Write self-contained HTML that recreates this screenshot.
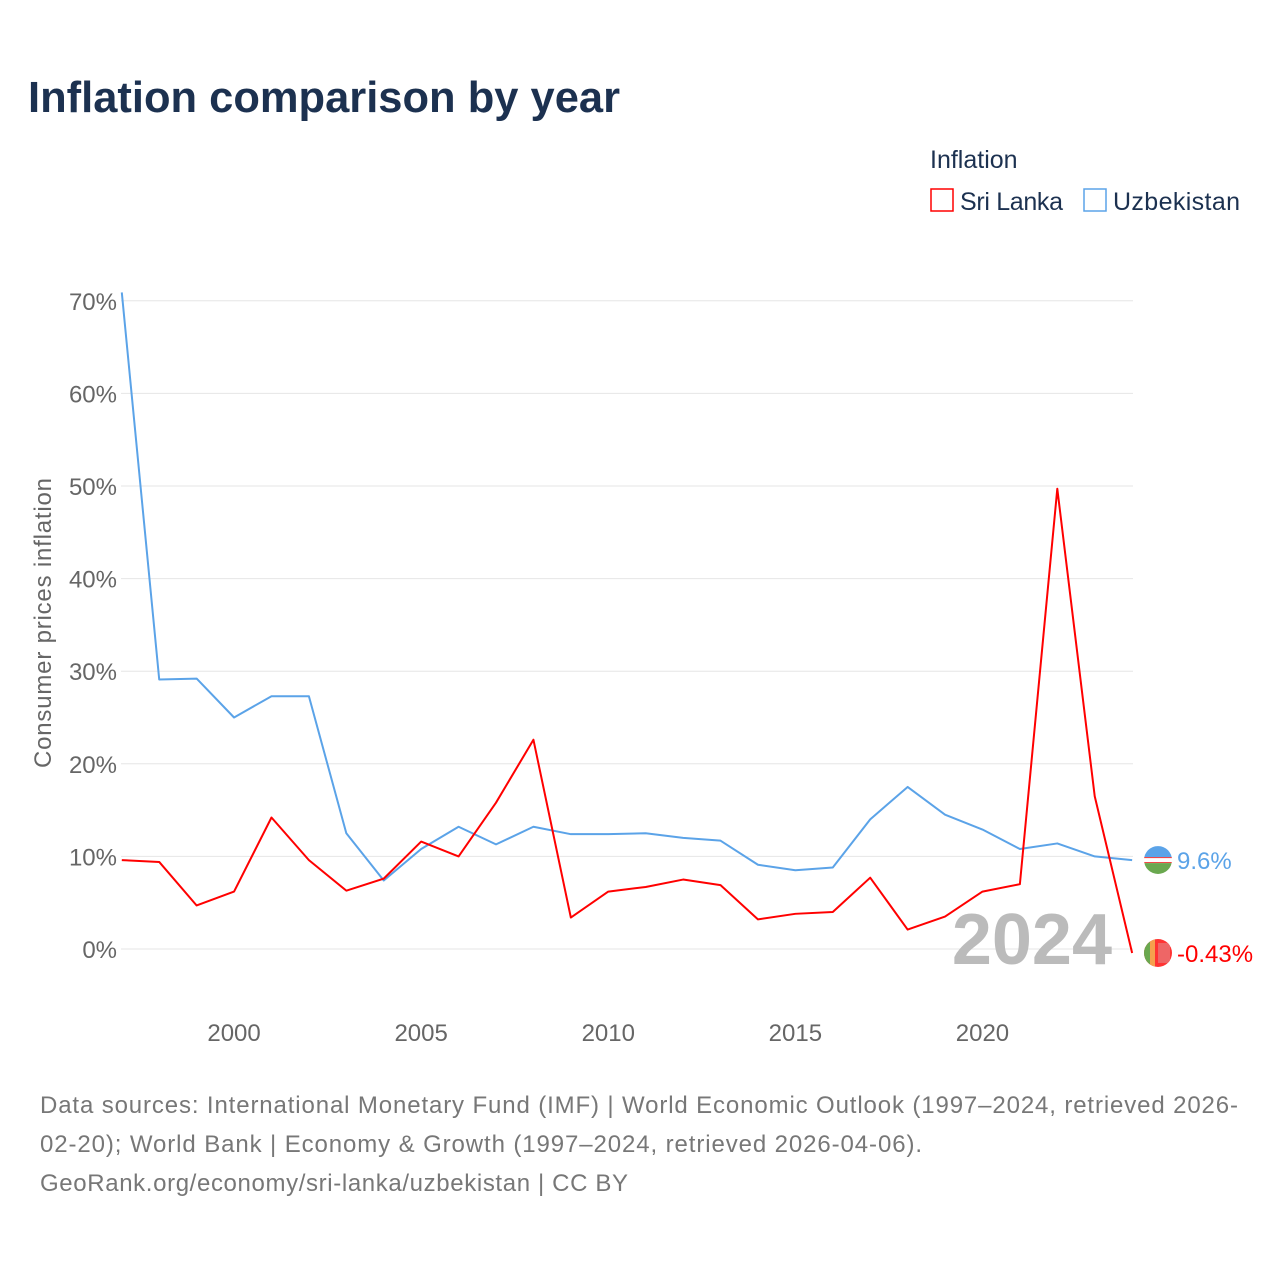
<!DOCTYPE html>
<html><head><meta charset="utf-8"><style>
body{margin:0;background:#fff;font-family:"Liberation Sans",sans-serif;}
</style></head><body>
<svg id="chart" width="1280" height="1280" xmlns="http://www.w3.org/2000/svg" style="display:block">
<defs>
<clipPath id="cu"><circle cx="1158" cy="860" r="14"/></clipPath>
<clipPath id="cs"><circle cx="1158" cy="953" r="14"/></clipPath>
</defs>
<rect width="1280" height="1280" fill="#fff"/>
<text x="28" y="112" font-size="44" font-weight="bold" fill="#1c3150" textLength="592" lengthAdjust="spacingAndGlyphs">Inflation comparison by year</text>
<text x="930" y="168" font-size="25" fill="#1c3150">Inflation</text>
<g><rect x="931" y="189" width="22" height="22" fill="none" stroke="#ff0000" stroke-width="1.5"/><text x="960" y="210" font-size="25" fill="#1c3150" textLength="103">Sri Lanka</text></g>
<g><rect x="1084" y="189" width="22" height="22" fill="none" stroke="#5ba3e8" stroke-width="1.5"/><text x="1113" y="210" font-size="25" fill="#1c3150" textLength="127">Uzbekistan</text></g>
<text transform="translate(51,623) rotate(-90)" text-anchor="middle" font-size="24" fill="#666" textLength="290">Consumer prices inflation</text>
<g id="grid"></g><g id="yticks"></g><g id="xticks"></g>
<text x="1112" y="964" text-anchor="end" font-size="72" font-weight="bold" fill="#bbb">2024</text>
<g id="series"></g>
<text font-size="24" fill="#777"><tspan x="40" y="1113" textLength="1198">Data sources: International Monetary Fund (IMF) | World Economic Outlook (1997–2024, retrieved 2026-</tspan><tspan x="40" y="1152" textLength="882">02-20); World Bank | Economy &amp; Growth (1997–2024, retrieved 2026-04-06).</tspan><tspan x="40" y="1191" textLength="588">GeoRank.org/economy/sri-lanka/uzbekistan | CC BY</tspan></text>
</svg>
<script>
const years=[1997,1998,1999,2000,2001,2002,2003,2004,2005,2006,2007,2008,2009,2010,2011,2012,2013,2014,2015,2016,2017,2018,2019,2020,2021,2022,2023,2024];
const uzbekistan=[70.9,29.1,29.2,25.0,27.3,27.3,12.5,7.4,10.8,13.2,11.3,13.2,12.4,12.4,12.5,12.0,11.7,9.1,8.5,8.8,14.0,17.5,14.5,12.9,10.8,11.4,10.0,9.6];
const sriLanka=[9.6,9.4,4.7,6.2,14.2,9.6,6.3,7.6,11.6,10.0,15.8,22.6,3.4,6.2,6.7,7.5,6.9,3.2,3.8,4.0,7.7,2.1,3.5,6.2,7.0,49.7,16.5,-0.43];
const yTicks=[0,10,20,30,40,50,60,70];
const xTicks=[2000,2005,2010,2015,2020];
const NS="http://www.w3.org/2000/svg";
const x=v=>121.8+(v-1997)*37.42;
const y=v=>949-v*9.26;
function mk(tag,attrs,parent){const e=document.createElementNS(NS,tag);for(const k in attrs)e.setAttribute(k,attrs[k]);document.getElementById(parent).appendChild(e);return e;}
yTicks.forEach(t=>{
  const l=mk('line',{x1:121,x2:1133,y1:y(t),y2:y(t),stroke:'#e6e6e6','stroke-width':1},'grid');
  
  
  const tx=mk('text',{x:117,y:y(t)+9,'text-anchor':'end','font-size':24,fill:'#666'},'yticks');
  tx.textContent=t+'%';
  
  
});
xTicks.forEach(t=>{
  const tx=mk('text',{x:x(t),y:1041,'text-anchor':'middle','font-size':24,fill:'#666'},'xticks');
  tx.textContent=t;
  
  
});
function series(vals,color,name,label,stripes,clip){
  const p=mk('polyline',{points:vals.map((v,i)=>x(years[i])+','+y(v)).join(' '),fill:'none',stroke:color,'stroke-width':2,'stroke-linejoin':'round'},'series');
  
  
  const lv=vals[vals.length-1];
  const cy=y(lv);
  const g=mk('g',{'clip-path':'url(#'+clip+')'},'series');
  
  
  g.id=name+'-flag';
  stripes(g,cy);
  const t=mk('text',{x:1177,y:cy+9,'font-size':24,fill:color},'series');
  t.textContent=label;
  
  
}
function r(g,a){const e=document.createElementNS(NS,'rect');for(const k in a)e.setAttribute(k,a[k]);g.appendChild(e);}
series(uzbekistan,'#5ba3e8','uzbekistan','9.6%',(g,cy)=>{
  r(g,{x:1144,y:cy-14,width:28,height:11,fill:'#5ba3e8'});
  r(g,{x:1144,y:cy-3,width:28,height:6,fill:'#fff'});
  r(g,{x:1144,y:cy-3,width:28,height:1,fill:'#e33'});
  r(g,{x:1144,y:cy+2,width:28,height:1,fill:'#e33'});
  r(g,{x:1144,y:cy+3,width:28,height:11,fill:'#6aa84f'});
},'cu');
series(sriLanka,'#ff0000','sri-lanka','-0.43%',(g,cy)=>{
  r(g,{x:1144,y:cy-14,width:28,height:28,fill:'#f33'});
  r(g,{x:1144,y:cy-14,width:6,height:28,fill:'#6aa84f'});
  r(g,{x:1150,y:cy-14,width:5,height:28,fill:'#f6a04d'});
  r(g,{x:1158,y:cy-10,width:12,height:20,fill:'#e66'});
},'cs');
</script>
</body></html>
